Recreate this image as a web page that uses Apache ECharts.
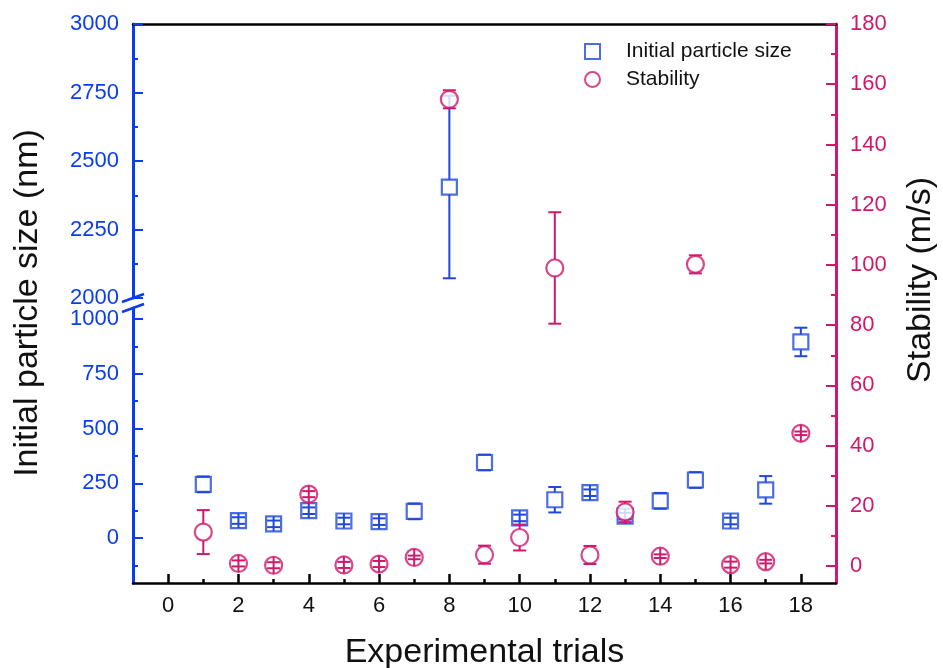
<!DOCTYPE html>
<html>
<head>
<meta charset="utf-8">
<script src="https://cdn.jsdelivr.net/npm/echarts@6/dist/echarts.min.js"></script>
<style>
html,body{margin:0;padding:0;background:#fff;}
#chart{width:943px;height:668px;}
</style>
</head>
<body>
<div id="chart"></div>
<script>
const trials = [1,2,3,4,5,6,7,8,9,10,11,12,13,14,15,16,17,18];
const sizeValues = [245, 80, 65, 125, 78, 75, 122, 2405, 345, 92, 175, 207, 100, 170, 265, 78, 220, 895];
const sizeErrors = [36, 15, 15, 15, 15, 15, 36, 333, 36, 15, 58, 15, 15, 36, 36, 15, 63, 65];
const stabilityValues = [11.3, 0.9, 0.3, 23.9, 0.4, 0.7, 2.9, 155, 3.8, 9.5, 99, 3.7, 18, 3.3, 100.2, 0.5, 1.5, 44.1];
const stabilityErrors = [7.3, 1, 1, 1, 1, 1, 0.6, 3.0, 3.0, 4.3, 18.5, 3.0, 3.4, 0.6, 3.0, 1, 0.6, 0.6];

const xTicks = [0,2,4,6,8,10,12,14,16,18];
const xMinorTicks = [1,3,5,7,9,11,13,15,17];
const upperTicks = [2000,2250,2500,2750,3000];
const upperMinor = [2125,2375,2625,2875];
const lowerTicks = [0,250,500,750,1000];
const lowerMinor = [-125,125,375,625,875];
const rightTicks = [0,20,40,60,80,100,120,140,160,180];
const rightMinor = [10,30,50,70,90,110,130,150,170];

const BLUE = '#1f48dc';
const BLUE_AXIS = '#0a3cf0';
const PINK = '#d0186c';
const FONT = "'Liberation Sans', Arial, sans-serif";

const sizeData = trials.map((t,i)=>[t, sizeValues[i], sizeErrors[i]]);
const stabData = trials.map((t,i)=>[t, stabilityValues[i], stabilityErrors[i]]);

function errRender(half, capHalf, color){
  return function(params, api){
    const x = api.value(0), v = api.value(1), e = api.value(2);
    const c = api.coord([x, v]);
    const t = api.coord([x, v + e]);
    const b = api.coord([x, v - e]);
    const style = {stroke: color, lineWidth: 2, fill: null};
    const ln = (x1,y1,x2,y2)=>({type:'line', shape:{x1,y1,x2,y2}, style});
    const ch = [ln(c[0]-capHalf, t[1], c[0]+capHalf, t[1]), ln(c[0]-capHalf, b[1], c[0]+capHalf, b[1])];
    if (c[1] - t[1] > half) {
      ch.push(ln(c[0], t[1], c[0], c[1]-half));
      ch.push(ln(c[0], c[1]+half, c[0], b[1]));
    } else {
      ch.push(ln(c[0], c[1]-half, c[0], c[1]+half));
    }
    return {type:'group', children: ch};
  };
}

function mainY(gridIndex, min, max, ticks, color, pos){
  return {
    type:'value', gridIndex, min, max, position: pos,
    axisLine:{show:true, onZero:false, lineStyle:{color, width:3}},
    axisTick:{show:true, inside:true, length:10, customValues: ticks, lineStyle:{color, width:2}},
    axisLabel:{show:true, customValues: ticks, color, fontSize:22, fontFamily:FONT, margin:14, formatter: v=>String(v)},
    splitLine:{show:false}
  };
}
function minorY(gridIndex, min, max, ticks, color, pos){
  return {
    type:'value', gridIndex, min, max, position: pos,
    axisLine:{show:false, onZero:false},
    axisTick:{show:true, inside:true, length:5, customValues: ticks, lineStyle:{color, width:2}},
    axisLabel:{show:false},
    splitLine:{show:false}
  };
}

const chart = echarts.init(document.getElementById('chart'));
const option = {
  animation:false,
  backgroundColor:'#fff',
  textStyle:{fontFamily:FONT},
  grid:[
    {left:133, right:107, top:24, height:274},
    {left:133, right:107, top:308, bottom:85},
    {left:133, right:107, top:24, bottom:85}
  ],
  xAxis:[
    {type:'value', gridIndex:0, min:-1, max:19, position:'top',
     axisLine:{show:true, onZero:false, lineStyle:{color:'#000', width:2.5}}, axisTick:{show:false}, axisLabel:{show:false}, splitLine:{show:false}},
    {type:'value', gridIndex:1, min:-1, max:19, position:'bottom',
     axisLine:{show:true, onZero:false, lineStyle:{color:'#000', width:2.5}},
     axisTick:{show:true, inside:true, length:9, customValues:xTicks, lineStyle:{color:'#000', width:2.5}},
     axisLabel:{show:true, customValues:xTicks, color:'#111', fontSize:22, fontFamily:FONT, margin:12, formatter:v=>String(v)},
     splitLine:{show:false}},
    {type:'value', gridIndex:1, min:-1, max:19, position:'bottom',
     axisLine:{show:false, onZero:false},
     axisTick:{show:true, inside:true, length:4, customValues:xMinorTicks, lineStyle:{color:'#000', width:2.5}},
     axisLabel:{show:false}, splitLine:{show:false}},
    {type:'value', gridIndex:2, min:-1, max:19, show:false}
  ],
  yAxis:[
    mainY(0, 2000, 3000, upperTicks, BLUE_AXIS, 'left'),
    minorY(0, 2000, 3000, upperMinor, BLUE_AXIS, 'left'),
    mainY(1, -205, 1050, lowerTicks, BLUE_AXIS, 'left'),
    minorY(1, -205, 1050, lowerMinor, BLUE_AXIS, 'left'),
    mainY(2, -5.6, 180, rightTicks, PINK, 'right'),
    minorY(2, -5.6, 180, rightMinor, PINK, 'right')
  ],
  legend:{
    data:['Initial particle size','Stability'],
    orient:'vertical', left:579, top:36, itemWidth:15, itemHeight:15, itemGap:7,
    textStyle:{fontSize:21, color:'#111', fontFamily:FONT, padding:[0,0,0,21]}
  },
  series:[
    {name:'Initial particle size', type:'scatter', xAxisIndex:0, yAxisIndex:0, data:sizeData, symbol:'rect', symbolSize:15, clip:true, z:2,
     itemStyle:{color:'#fff', borderColor:BLUE, borderWidth:2.2}},
    {name:'size-err-upper', type:'custom', xAxisIndex:0, yAxisIndex:0, data:sizeData, clip:true, z:3,
     encode:{x:0, y:1}, renderItem: errRender(7.5, 6.5, BLUE)},
    {name:'Initial particle size', type:'scatter', xAxisIndex:1, yAxisIndex:2, data:sizeData, symbol:'rect', symbolSize:15, clip:true, z:2,
     itemStyle:{color:'#fff', borderColor:BLUE, borderWidth:2.2}},
    {name:'size-err-lower', type:'custom', xAxisIndex:1, yAxisIndex:2, data:sizeData, clip:true, z:3,
     encode:{x:0, y:1}, renderItem: errRender(7.5, 6.5, BLUE)},
    {name:'Stability', type:'scatter', xAxisIndex:3, yAxisIndex:4, data:stabData, symbol:'circle', symbolSize:17, clip:true, z:4,
     itemStyle:{color:'#fff', borderColor:PINK, borderWidth:2.2}},
    {name:'stab-err', type:'custom', xAxisIndex:3, yAxisIndex:4, data:stabData, clip:true, z:5,
     encode:{x:0, y:1}, renderItem: errRender(8.5, 6.5, PINK)}
  ]
};
chart.setOption(option);

const xl = chart.convertToPixel({xAxisIndex:0}, -1);
const xr = chart.convertToPixel({xAxisIndex:0}, 19);
const yUpperBottom = chart.convertToPixel({yAxisIndex:0}, 2000);
const yLowerTop = chart.convertToPixel({yAxisIndex:2}, 1050);
const brk = (y)=>({type:'line', shape:{x1:xl-11, y1:y+4, x2:xl+11, y2:y-4}, style:{stroke:BLUE_AXIS, lineWidth:2.5}, z:10});
chart.setOption({
  graphic:[
    brk(yUpperBottom),
    brk(yLowerTop),
    {type:'text', x:28, y:303, rotation:Math.PI/2, z:10,
     style:{text:'Initial particle size (nm)', fontSize:34, fontFamily:FONT, fill:'#111', align:'center', verticalAlign:'middle'}},
    {type:'text', x:921, y:280, rotation:Math.PI/2, z:10,
     style:{text:'Stability (m/s)', fontSize:34, fontFamily:FONT, fill:'#111', align:'center', verticalAlign:'middle'}},
    {type:'text', x:(xl+xr)/2, y:653, z:10,
     style:{text:'Experimental trials', fontSize:34, fontFamily:FONT, fill:'#111', align:'center', verticalAlign:'middle'}}
  ]
});
</script>
</body>
</html>
